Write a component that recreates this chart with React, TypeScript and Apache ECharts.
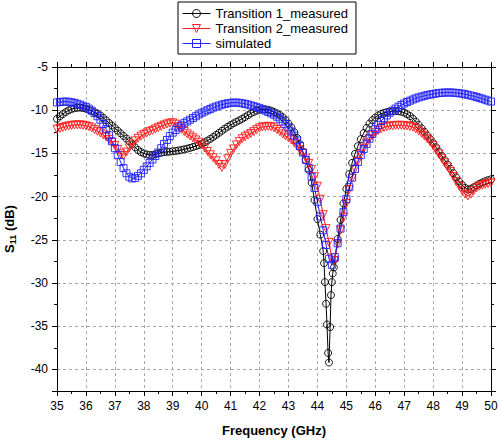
import React, { useEffect, useRef } from 'react';
import * as echarts from 'echarts';

// Frequency sweep (GHz), 0.1 GHz step from 35 to 50
const FREQ_GHZ: number[] = Array.from({ length: 151 }, (_, i) => Math.round((35 + i * 0.1) * 10) / 10);

const X_TICKS = [35, 36, 37, 38, 39, 40, 41, 42, 43, 44, 45, 46, 47, 48, 49, 50];
const Y_TICKS = [-40, -35, -30, -25, -20, -15, -10, -5];

const SERIES_NAMES = ['Transition 1_measured', 'Transition 2_measured', 'simulated'];

// Transition 1 measured, S11 (dB) on FREQ_GHZ
const T1_S11 = [
  -11.00, -10.70, -10.45, -10.22, -10.02, -9.87, -9.77, -9.72, -9.70, -9.74,
  -9.82, -9.95, -10.10, -10.25, -10.42, -10.60, -10.88, -11.18, -11.48, -11.78,
  -12.08, -12.38, -12.68, -12.98, -13.28, -13.60, -13.95, -14.30, -14.60, -14.85,
  -15.00, -15.12, -15.18, -15.18, -15.10, -15.00, -14.92, -14.86, -14.82, -14.80,
  -14.76, -14.72, -14.66, -14.60, -14.52, -14.45, -14.36, -14.26, -14.15, -14.04,
  -13.90, -13.72, -13.52, -13.32, -13.10, -12.86, -12.62, -12.38, -12.14, -11.92,
  -11.72, -11.52, -11.35, -11.18, -11.00, -10.80, -10.58, -10.38, -10.20, -10.06,
  -9.96, -9.90, -9.90, -9.95, -10.05, -10.20, -10.36, -10.56, -10.80, -11.15,
  -11.55, -12.00, -12.55, -13.20, -13.95, -14.80, -15.75, -16.90, -18.40, -20.40,
  -22.60, -24.40, -26.30, -32.40, -39.20, -29.90, -27.30, -24.90, -22.70, -20.80,
  -19.10, -17.40, -16.10, -15.05, -14.15, -13.35, -12.65, -12.05, -11.55, -11.15,
  -10.85, -10.60, -10.42, -10.30, -10.22, -10.16, -10.12, -10.10, -10.12, -10.18,
  -10.28, -10.45, -10.68, -10.98, -11.32, -11.70, -12.10, -12.50, -12.92, -13.36,
  -13.80, -14.28, -14.78, -15.28, -15.78, -16.28, -16.78, -17.28, -17.78, -18.25,
  -18.65, -18.98, -19.18, -19.12, -18.92, -18.72, -18.52, -18.36, -18.22, -18.10,
  -18.00,
];
// extra measured points of Transition 1 inside the deep resonance
const T1_DIP_FREQ = [44.23, 44.26, 44.33, 44.37, 44.44, 44.47, 44.53, 44.57];
const T1_DIP_S11 = [-27.7, -29.9, -34.8, -38.1, -35.1, -31.4, -28.9, -28.2];

// Transition 2 measured
const T2_S11 = [
  -12.20, -12.10, -12.00, -11.90, -11.82, -11.76, -11.72, -11.70, -11.70, -11.74,
  -11.80, -11.90, -12.05, -12.25, -12.45, -12.62, -12.85, -13.10, -13.40, -13.72,
  -14.08, -14.55, -15.05, -15.25, -14.85, -14.35, -13.92, -13.55, -13.25, -13.00,
  -12.80, -12.64, -12.48, -12.33, -12.18, -12.02, -11.86, -11.72, -11.60, -11.50,
  -11.45, -11.62, -11.90, -12.20, -12.48, -12.74, -12.98, -13.20, -13.44, -13.70,
  -14.00, -14.38, -14.78, -15.16, -15.50, -15.86, -16.28, -16.62, -16.30, -15.62,
  -15.00, -14.48, -14.02, -13.62, -13.30, -13.08, -12.88, -12.70, -12.48, -12.25,
  -12.05, -11.95, -11.90, -11.86, -11.90, -12.04, -12.24, -12.48, -12.74, -12.98,
  -13.20, -13.45, -13.78, -14.18, -14.58, -15.00, -15.55, -16.15, -16.85, -17.70,
  -18.80, -20.30, -22.10, -23.70, -25.30, -27.10, -27.40, -25.50, -23.90, -22.40,
  -20.80, -19.20, -17.90, -16.80, -15.90, -15.10, -14.40, -13.80, -13.30, -12.90,
  -12.60, -12.35, -12.15, -12.00, -11.90, -11.84, -11.80, -11.76, -11.75, -11.75,
  -11.78, -11.82, -11.88, -11.96, -12.15, -12.40, -12.68, -12.98, -13.30, -13.68,
  -14.10, -14.58, -15.08, -15.58, -16.08, -16.58, -17.10, -17.68, -18.28, -18.80,
  -19.30, -19.70, -19.92, -19.72, -19.32, -19.00, -18.80, -18.68, -18.58, -18.48,
  -18.40,
];

// Simulated
const SIM_S11 = [
  -9.10, -9.05, -9.02, -9.00, -9.03, -9.08, -9.15, -9.25, -9.35, -9.48,
  -9.62, -9.82, -10.05, -10.35, -10.70, -11.10, -11.60, -12.20, -12.90, -13.60,
  -14.40, -15.20, -16.00, -16.70, -17.30, -17.70, -17.90, -17.85, -17.60, -17.30,
  -16.90, -16.50, -16.10, -15.70, -15.30, -14.90, -14.40, -13.90, -13.45, -13.00,
  -12.60, -12.30, -12.00, -11.75, -11.50, -11.30, -11.10, -10.90, -10.70, -10.50,
  -10.30, -10.15, -10.00, -9.85, -9.70, -9.58, -9.46, -9.36, -9.27, -9.20,
  -9.15, -9.12, -9.12, -9.15, -9.20, -9.26, -9.34, -9.44, -9.54, -9.65,
  -9.76, -9.90, -10.05, -10.20, -10.36, -10.52, -10.75, -11.00, -11.30, -11.62,
  -12.00, -12.45, -12.95, -13.50, -14.15, -14.90, -15.75, -16.70, -17.70, -19.00,
  -20.60, -22.30, -23.90, -25.60, -27.20, -27.90, -27.00, -25.40, -23.70, -21.80,
  -20.30, -18.90, -17.80, -16.80, -16.00, -15.20, -14.50, -13.90, -13.30, -12.75,
  -12.20, -11.70, -11.25, -10.90, -10.60, -10.30, -10.05, -9.82, -9.60, -9.40,
  -9.22, -9.05, -8.90, -8.76, -8.63, -8.52, -8.42, -8.33, -8.25, -8.18,
  -8.12, -8.06, -8.01, -7.98, -7.96, -7.95, -7.95, -7.97, -8.00, -8.04,
  -8.09, -8.15, -8.22, -8.30, -8.38, -8.47, -8.57, -8.67, -8.78, -8.89,
  -9.00,
];

const FONT = '"Liberation Sans", Arial, sans-serif';

export default function App() {
  const ref = useRef<HTMLDivElement>(null);

  useEffect(() => {
    if (!ref.current) return;
    const chart = echarts.init(ref.current, undefined, { renderer: 'svg' });

    const t1 = FREQ_GHZ.map((f, i) => [f, T1_S11[i]])
      .concat(T1_DIP_FREQ.map((f, i) => [f, T1_DIP_S11[i]]))
      .sort((a, b) => a[0] - b[0]);
    const t2 = FREQ_GHZ.map((f, i) => [f, T2_S11[i]]);
    const sim = FREQ_GHZ.map((f, i) => [f, SIM_S11[i]]);

    const axisLine = { show: true, onZero: false, lineStyle: { color: '#000', width: 1 } };
    const grid = { type: [3, 3], color: '#a8a8a8', width: 1 };

    const minorX = (position: string) => ({
      type: 'value', position, min: 35, max: 50, interval: 0.5,
      axisLine, axisTick: { show: true, length: 3, lineStyle: { color: '#000' } },
      axisLabel: { show: false }, splitLine: { show: false },
    });
    const majorX = (position: string, labels: boolean) => ({
      type: 'value', position, min: 35, max: 50, interval: 1,
      axisLine, axisTick: { show: true, length: 5, lineStyle: { color: '#000' } },
      axisLabel: {
        show: labels, margin: 9, color: '#000', fontSize: 12, fontFamily: FONT,
        formatter: (v: number) => (X_TICKS.includes(v) ? String(v) : ''),
      },
      splitLine: { show: labels, lineStyle: grid },
      name: labels ? 'Frequency (GHz)' : '',
      nameLocation: 'middle', nameGap: 33,
      nameTextStyle: { color: '#000', fontSize: 13, fontWeight: 'bold', fontFamily: FONT },
    });
    const minorY = (position: string) => ({
      type: 'value', position, min: -42.5, max: -5, interval: 2.5,
      axisLine, axisTick: { show: true, length: 3, lineStyle: { color: '#000' } },
      axisLabel: { show: false }, splitLine: { show: false },
    });
    // auxiliary axis holding negated dB values so that major ticks start at a multiple of 5
    const majorY = (position: string, labels: boolean) => ({
      type: 'value', position, min: 5, max: 42.5, interval: 5, inverse: true,
      axisLine, axisTick: { show: true, length: 5, lineStyle: { color: '#000' } },
      axisLabel: {
        show: labels, margin: 9, color: '#000', fontSize: 12, fontFamily: FONT,
        formatter: (v: number) => (Y_TICKS.includes(-v) ? String(-v) : ''),
      },
      splitLine: { show: labels, lineStyle: grid },
      name: labels ? '{s|S}{sub|11}{s| (dB)}' : '',
      nameLocation: 'middle', nameGap: 40,
      nameTextStyle: {
        color: '#000', fontSize: 13, fontWeight: 'bold', fontFamily: FONT,
        rich: {
          s: { fontSize: 13, fontWeight: 'bold', fontFamily: FONT, color: '#000' },
          sub: { fontSize: 9, fontWeight: 'bold', fontFamily: FONT, color: '#000', padding: [6, 0, 0, 0] },
        },
      },
    });

    const mk = (name: string, data: number[][], color: string, symbol: string, size: number, rotate = 0) => ({
      name, type: 'line', data, xAxisIndex: 0, yAxisIndex: 0,
      symbol, symbolSize: size, symbolRotate: rotate, showSymbol: true, showAllSymbol: true,
      lineStyle: { color, width: 1 },
      itemStyle: { color: 'rgba(255,255,255,0)', borderColor: color, borderWidth: 0.9 },
      emphasis: { disabled: true }, silent: true,
    });

    chart.setOption({
      animation: false,
      backgroundColor: '#fff',
      textStyle: { fontFamily: FONT },
      grid: { left: 57, right: 10, top: 67, bottom: 54, containLabel: false, outerBoundsMode: 'none' },
      legend: {
        show: true, orient: 'vertical', left: 178, top: 2,
        padding: [5, 8, 4, 4], itemGap: 2, itemWidth: 28, itemHeight: 10,
        borderColor: '#000', borderWidth: 1, backgroundColor: '#fff',
        lineStyle: { width: 1 },
        itemStyle: { borderWidth: 1 },
        textStyle: { color: '#000', fontSize: 13, fontFamily: FONT },
        data: SERIES_NAMES,
      },
      xAxis: [minorX('bottom'), majorX('bottom', true), minorX('top'), majorX('top', false)],
      yAxis: [minorY('left'), majorY('left', true), minorY('right'), majorY('right', false)],
      series: [
        mk(SERIES_NAMES[0], t1, '#000000', 'circle', 7),
        mk(SERIES_NAMES[1], t2, '#ff1a1a', 'triangle', 8, 180),
        mk(SERIES_NAMES[2], sim, '#2020ff', 'rect', 7),
      ],
    });

    return () => chart.dispose();
  }, []);

  return <div ref={ref} style={{ position: 'fixed', left: 0, top: 0, width: 501, height: 445 }} />;
}
